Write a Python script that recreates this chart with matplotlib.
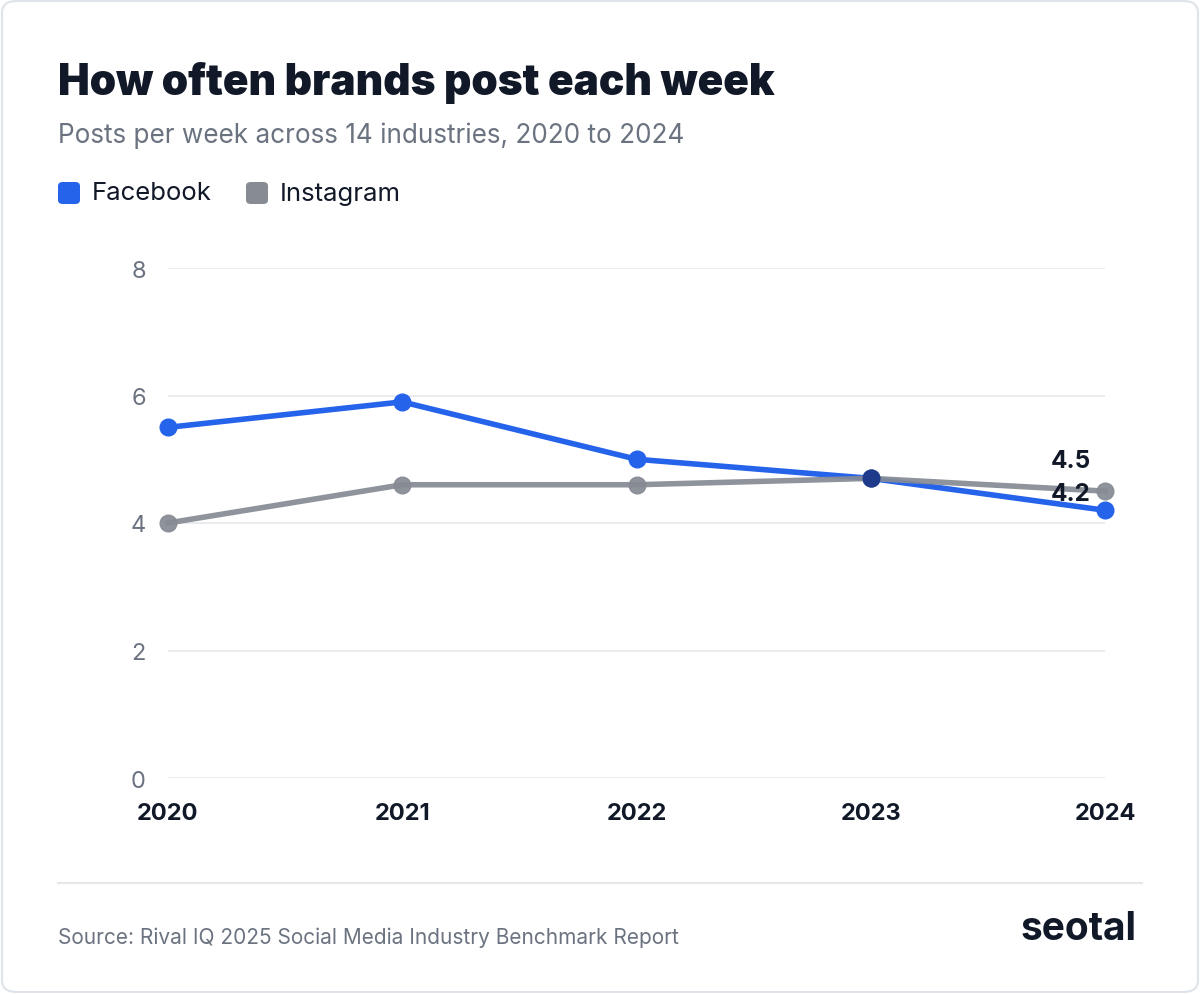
import matplotlib
matplotlib.use("Agg")
import matplotlib.pyplot as plt
from matplotlib.patches import FancyBboxPatch
from matplotlib.lines import Line2D

years = [2020, 2021, 2022, 2023, 2024]
facebook = [5.5, 5.9, 5.0, 4.7, 4.2]
instagram = [4.0, 4.6, 4.6, 4.7, 4.5]
yticks = [0, 2, 4, 6, 8]

BLUE = "#2563eb"
GRAY = "#868b94"
plt.rcParams['font.family'] = ['Inter', 'DejaVu Sans']

W, H = 1200, 995
fig = plt.figure(figsize=(12, 9.95), dpi=100)
fig.patch.set_facecolor("white")

def fx(x): return x / W
def fy(y): return 1 - y / H

card = FancyBboxPatch((fx(2), fy(993)), fx(1196), 991 / H, boxstyle="round,pad=0,rounding_size=0.012",
                      transform=fig.transFigure, facecolor="white", edgecolor="#dfe3ea", lw=1.5, zorder=-5)
fig.patches.append(card)

fig.text(fx(58), fy(83), "How often brands post each week", fontsize=30.5, fontweight="black",
         color="#111827", va="center", ha="left")
fig.text(fx(58), fy(136), "Posts per week across 14 industries, 2020 to 2024", fontsize=18.8,
         color="#6b7280", va="center", ha="left")

for x0, lab, c in [(58, "Facebook", BLUE), (246, "Instagram", GRAY)]:
    sq = FancyBboxPatch((fx(x0), fy(205)), fx(22), 22 / H, boxstyle="round,pad=0,rounding_size=0.004",
                        transform=fig.transFigure, facecolor=c, edgecolor="none")
    fig.patches.append(sq)
    fig.text(fx(x0 + 34), fy(194), lab, fontsize=18.5, color="#111827", va="center", ha="left")

ax = fig.add_axes([fx(168), fy(779), fx(1105 - 168), (779 - 269) / H])
ax.set_zorder(5)
ax.patch.set_alpha(0)
ax.set_xlim(2020, 2024)
ax.set_ylim(0, 8)
for s in ax.spines.values():
    s.set_visible(False)
ax.set_yticks(yticks)
ax.set_yticklabels([str(v) for v in yticks], fontsize=17, color="#6b7280")
ax.set_xticks(years)
ax.set_xticklabels([str(v) for v in years], fontsize=17, fontweight="bold", color="#111827")
ax.tick_params(length=0, axis="y", pad=16)
ax.tick_params(length=0, axis="x", pad=17)
ax.grid(axis="y", color="#e5e7eb", lw=1.2)
ax.set_axisbelow(True)

ax.plot(years, facebook, color=BLUE, lw=4, marker="o", ms=12, clip_on=False, zorder=3)
ax.plot(years, instagram, color=GRAY, lw=4, marker="o", ms=12, clip_on=False, zorder=4, alpha=0.92)
ax.plot([2023], [4.7], marker="o", ms=12, color="#1e3a8a", zorder=5, clip_on=False)

ax.annotate(f"{instagram[-1]}", (years[-1], instagram[-1]), xytext=(-10, 22), textcoords="offset points",
            ha="right", va="center", fontsize=17.5, fontweight="bold", color="#111827", zorder=10)
ax.annotate(f"{facebook[-1]}", (years[-1], facebook[-1]), xytext=(-10, 12), textcoords="offset points",
            ha="right", va="center", fontsize=17.5, fontweight="bold", color="#111827", zorder=10)

fig.add_artist(Line2D([fx(58), fx(1142)], [fy(884), fy(884)], color="#e5e7eb", lw=1.5))
fig.text(fx(58), fy(938), "Source: Rival IQ 2025 Social Media Industry Benchmark Report", fontsize=15,
         color="#6b7280", va="center", ha="left")
fig.text(fx(1137), fy(930), "seotal", fontsize=28, fontweight="bold", color="#111827",
         va="center", ha="right")

fig.savefig("out.png", dpi=100)
